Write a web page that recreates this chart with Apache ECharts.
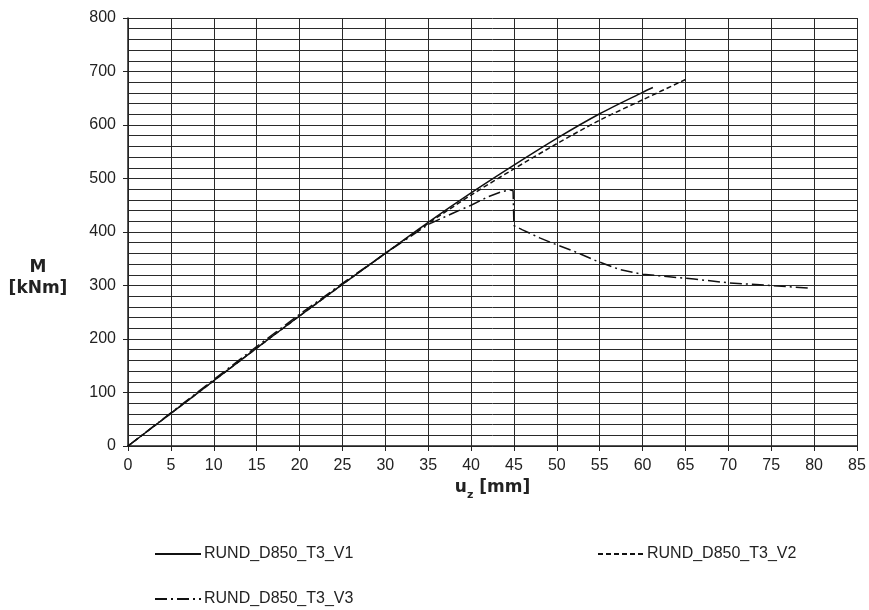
<!DOCTYPE html>
<html>
<head>
<meta charset="utf-8">
<script src="https://cdn.jsdelivr.net/npm/echarts@6/dist/echarts.min.js"></script>
<style>html,body{margin:0;padding:0;background:#fff;}#c{width:869px;height:610px;}</style>
</head>
<body>
<div id="c"></div>
<script>
const seriesNames = ['RUND_D850_T3_V1', 'RUND_D850_T3_V2', 'RUND_D850_T3_V3'];

const v1X = [0, 5, 10, 15, 20, 25, 30, 35, 40, 45, 50, 55, 60, 61.2];
const v1Y = [0, 61, 122, 183, 243, 302, 360, 418, 473, 525, 575, 621, 661, 670];

const v2X = [0, 5, 10, 15, 20, 25, 30, 35, 40, 45, 50, 55, 60, 65];
const v2Y = [0, 61, 122, 183, 243, 302, 360, 416, 469, 518, 565, 609, 647, 685];

const v3X = [0, 5, 10, 15, 20, 25, 30, 35, 38, 40, 42, 43.5, 44.5, 44.9, 45.0, 46, 48, 50, 52, 54.6, 57.3, 60, 62, 66, 70, 75, 79.5];
const v3Y = [0, 62, 124, 186, 246, 304, 360, 414, 436, 450, 466, 475, 479, 477, 412, 404, 389, 376, 364, 346, 330, 321, 318, 312, 305, 300, 295];

const xTicks = {min: 0, max: 85, interval: 5};
const yTicks = {min: 0, max: 800, interval: 100, minorSplit: 5};

const yTitle = ['M', '[kNm]'];

function pairs(xs, ys) { return xs.map((x, i) => [x, ys[i]]); }

const font = 'Liberation Sans, Arial, sans-serif';
const gridColor = '#2a2a2a';

const legendBase = {
  itemWidth: 46, itemHeight: 14, itemGap: 10,
  itemStyle: {opacity: 0},
  textStyle: {fontFamily: font, fontSize: 16, color: '#222', padding: [0, 0, 0, -2]}
};

const chart = echarts.init(document.getElementById('c'), null, {renderer: 'canvas'});
chart.setOption({
  backgroundColor: '#fff',
  animation: false,
  grid: {left: 128, right: 12, top: 18, bottom: 164, containLabel: false},
  graphic: [
    {type: 'text', x: 38, y: 268, style: {text: yTitle[0], fontFamily: 'DejaVu Sans', fontWeight: 'bold', fontSize: 17, fill: '#222', align: 'center', verticalAlign: 'middle'}},
    {type: 'text', x: 38, y: 289, style: {text: yTitle[1], fontFamily: 'DejaVu Sans', fontWeight: 'bold', fontSize: 17, fill: '#222', align: 'center', verticalAlign: 'middle'}}
  ],
  xAxis: {
    type: 'value',
    min: xTicks.min, max: xTicks.max, interval: xTicks.interval,
    name: '{b|u}{s|z}{b| [mm]}',
    nameLocation: 'middle',
    nameGap: 23,
    nameTextStyle: {
      rich: {
        b: {fontFamily: 'DejaVu Sans', fontWeight: 'bold', fontSize: 17, color: '#222', lineHeight: 22, verticalAlign: 'top'},
        s: {fontFamily: 'DejaVu Sans', fontWeight: 'bold', fontSize: 11, color: '#222', lineHeight: 22, verticalAlign: 'bottom', padding: [8, 0, 0, 0]}
      }
    },
    axisLine: {show: true, onZero: false, lineStyle: {color: '#222', width: 1.5}},
    axisTick: {show: true, inside: false, length: 5, lineStyle: {color: '#222'}},
    axisLabel: {fontFamily: font, fontSize: 16, color: '#222', margin: 12},
    splitLine: {show: true, lineStyle: {color: gridColor, width: 1}}
  },
  yAxis: {
    type: 'value',
    min: yTicks.min, max: yTicks.max, interval: yTicks.interval,
    axisLine: {show: true, onZero: false, lineStyle: {color: '#222', width: 1.5}},
    axisTick: {show: true, inside: false, length: 5, lineStyle: {color: '#222'}},
    axisLabel: {fontFamily: font, fontSize: 16, color: '#222', margin: 12},
    splitLine: {show: true, lineStyle: {color: gridColor, width: 1}},
    minorTick: {show: false, splitNumber: yTicks.minorSplit},
    minorSplitLine: {show: true, lineStyle: {color: gridColor, width: 1}}
  },
  legend: [
    Object.assign({data: [seriesNames[0]], left: 149, top: 541}, legendBase),
    Object.assign({data: [seriesNames[1]], left: 592, top: 541}, legendBase),
    Object.assign({data: [seriesNames[2]], left: 149, top: 586}, legendBase)
  ],
  series: [
    {name: seriesNames[0], type: 'line', data: pairs(v1X, v1Y), symbol: 'none', smooth: 0.3,
     lineStyle: {color: '#111', width: 1.5, type: 'solid'}, itemStyle: {color: '#111'}},
    {name: seriesNames[1], type: 'line', data: pairs(v2X, v2Y), symbol: 'none', smooth: 0.3,
     lineStyle: {color: '#111', width: 1.5, type: [5, 3]}, itemStyle: {color: '#111'}},
    {name: seriesNames[2], type: 'line', data: pairs(v3X, v3Y), symbol: 'none', smooth: false,
     lineStyle: {color: '#111', width: 1.5, type: [12, 4, 2, 4]}, itemStyle: {color: '#111'}}
  ]
});
</script>
</body>
</html>
